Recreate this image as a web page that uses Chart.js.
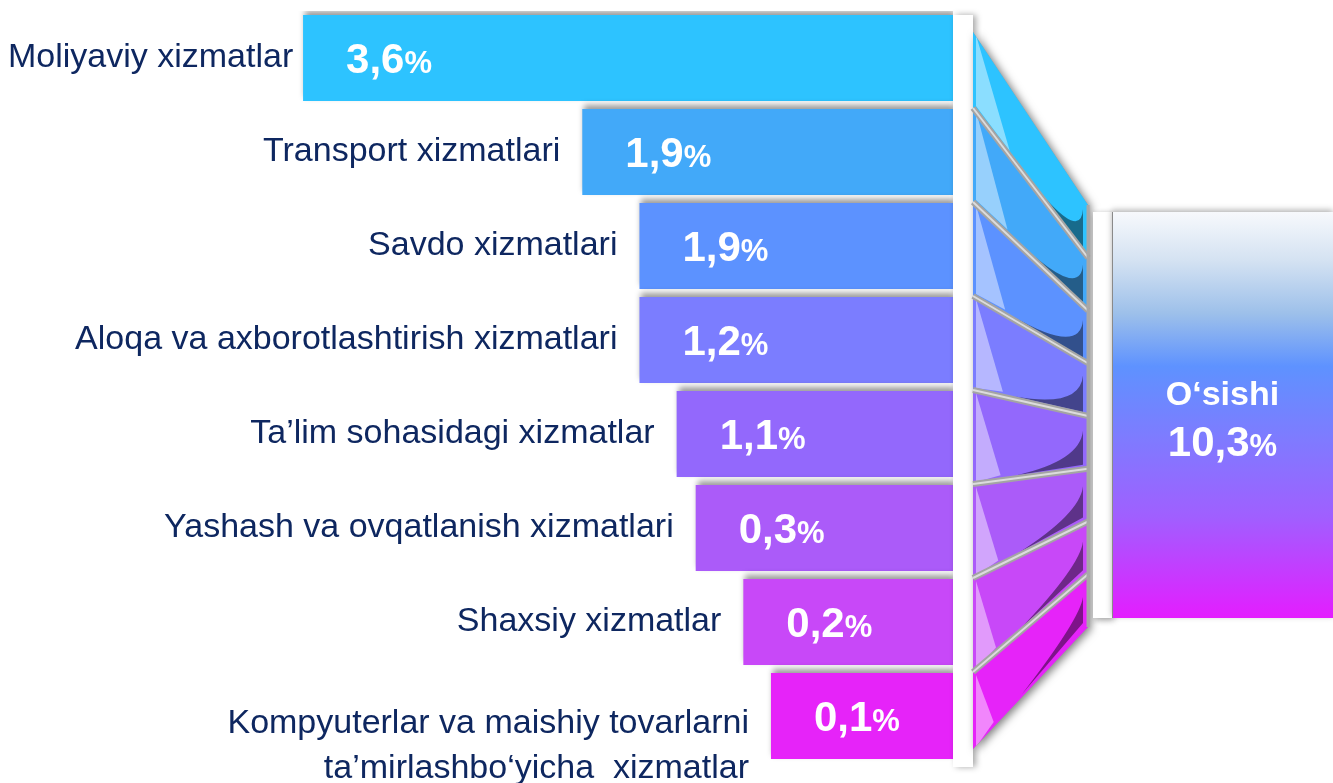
<!DOCTYPE html>
<html>
<head>
<meta charset="utf-8">
<script src="https://cdn.jsdelivr.net/npm/chart.js@4.4.0/dist/chart.umd.min.js"></script>
<style>
  html, body { margin: 0; padding: 0; background: #fff; }
  canvas { display: block; }
</style>
</head>
<body>
<canvas id="grafico" width="1333" height="783"></canvas>
<script>
// Datos
const categorias = [
  'Moliyaviy xizmatlar',
  'Transport xizmatlari',
  'Savdo xizmatlari',
  'Aloqa va axborotlashtirish xizmatlari',
  'Ta’lim sohasidagi xizmatlar',
  'Yashash va ovqatlanish xizmatlari',
  'Shaxsiy xizmatlar',
  ['Kompyuterlar va maishiy tovarlarni', 'ta’mirlashbo‘yicha  xizmatlar']
];
const valores = [3.6, 1.9, 1.9, 1.2, 1.1, 0.3, 0.2, 0.1];
// largo de cada barra tal como se ve (eje 0-100)
const largoBarras = [68.2, 38.9, 32.9, 32.9, 29.0, 27.0, 22.0, 19.1];
const colores = ['#2DC3FF', '#42A9F9', '#5C92FF', '#7B7DFF', '#9368FC', '#AB5BF9', '#C848F8', '#E623F9'];
const totalTexto = 'O‘sishi';
const totalValor = 10.3;

const fmt = v => v.toFixed(1).replace('.', ',');
const azul = '#0E2760';

// Texto "3,6" + "%" mas chico
function textoPorcentaje(ctx, num, x, y, tam, tamPct, align) {
  ctx.font = 'bold ' + tam + 'px "Liberation Sans", Arial, sans-serif';
  const w1 = ctx.measureText(num).width;
  ctx.font = 'bold ' + tamPct + 'px "Liberation Sans", Arial, sans-serif';
  const w2 = ctx.measureText('%').width;
  let xi = align === 'center' ? x - (w1 + w2) / 2 : x;
  ctx.textAlign = 'left';
  ctx.textBaseline = 'alphabetic';
  ctx.font = 'bold ' + tam + 'px "Liberation Sans", Arial, sans-serif';
  ctx.fillText(num, xi, y);
  ctx.font = 'bold ' + tamPct + 'px "Liberation Sans", Arial, sans-serif';
  ctx.fillText('%', xi + w1, y);
}

// Sombra de las barras
const sombraBarras = {
  id: 'sombraBarras',
  beforeDatasetsDraw(chart) {
    const ctx = chart.ctx;
    ctx.save();
    ctx.shadowColor = 'rgba(0,0,0,0.4)';
    ctx.shadowBlur = 6;
    ctx.shadowOffsetX = 2;
    ctx.shadowOffsetY = -4;
  },
  afterDatasetsDraw(chart) {
    chart.ctx.restore();
  }
};

// Etiquetas
const etiquetas = {
  id: 'etiquetas',
  afterDatasetsDraw(chart) {
    const ctx = chart.ctx;
    const barras = chart.getDatasetMeta(0).data;
    ctx.save();
    barras.forEach((b, i) => {
      const izq = Math.min(b.x, b.base);
      // categoria
      ctx.fillStyle = azul;
      ctx.font = '34px "Liberation Sans", Arial, sans-serif';
      ctx.textAlign = 'right';
      ctx.textBaseline = 'middle';
      const lineas = Array.isArray(categorias[i]) ? categorias[i] : [categorias[i]];
      const desde = lineas.length > 1 ? b.y + 8 : b.y;
      const ancho = Math.max(...lineas.map(l => ctx.measureText(l).width));
      const xTexto = Math.max(izq - 22, 8 + ancho);
      lineas.forEach((l, k) => ctx.fillText(l, xTexto, desde + k * 45));
      // valor
      ctx.fillStyle = '#fff';
      textoPorcentaje(ctx, fmt(valores[i]), izq + 43, b.y + 15, 42, 31, 'left');
    });
    ctx.restore();
  }
};

// Abanico, separadores y caja del total
const abanico = {
  id: 'abanico',
  afterDraw(chart) {
    const ctx = chart.ctx;
    const area = chart.chartArea;
    const barras = chart.getDatasetMeta(0).data;
    const n = barras.length;
    const x0 = area.right + 20;
    const x1 = area.right + 135;
    const cajaTop = 212, cajaBot = 618;
    const cajaX = x1 + 24;

    const topBarra = b => b.y - b.height / 2;
    const botBarra = b => b.y + b.height / 2;

    // bordes izquierdos y derechos de cada tramo
    const izq = [topBarra(barras[0]) + 17];
    for (let i = 0; i < n - 1; i++) izq.push((botBarra(barras[i]) + topBarra(barras[i + 1])) / 2 + 3);
    izq.push(botBarra(barras[n - 1]) - 10);
    const derTop = 205, derBot = 627;
    const der = [];
    for (let i = 0; i <= n; i++) der.push(derTop + (derBot - derTop) * i / n);

    ctx.save();

    // franja blanca 1
    ctx.save();
    ctx.shadowColor = 'rgba(0,0,0,0.35)';
    ctx.shadowBlur = 6;
    ctx.shadowOffsetX = 3;
    ctx.shadowOffsetY = 0;
    ctx.fillStyle = '#fff';
    ctx.fillRect(area.right, topBarra(barras[0]), 20, botBarra(barras[n - 1]) - topBarra(barras[0]) + 8);
    ctx.restore();

    // sombra del abanico
    ctx.save();
    ctx.shadowColor = 'rgba(0,0,0,0.5)';
    ctx.shadowBlur = 9;
    ctx.shadowOffsetX = 3;
    ctx.shadowOffsetY = 2;
    ctx.beginPath();
    ctx.moveTo(x0, izq[0]);
    ctx.lineTo(x1, der[0]);
    ctx.lineTo(x1, der[n]);
    ctx.lineTo(x0, izq[n]);
    ctx.closePath();
    ctx.fillStyle = '#9a9a9a';
    ctx.fill();
    ctx.restore();

    const punto = (t, i) => [x0 + (x1 - x0) * t, izq[i] + (der[i] - izq[i]) * t];

    for (let i = 0; i < n; i++) {
      ctx.save();
      ctx.beginPath();
      ctx.moveTo(x0, izq[i]);
      ctx.lineTo(x1, der[i]);
      ctx.lineTo(x1, der[i + 1]);
      ctx.lineTo(x0, izq[i + 1]);
      ctx.closePath();
      ctx.fillStyle = colores[i];
      ctx.fill();
      ctx.clip();

      // brillo
      const t = 0.32 - i * 0.02;
      const p = punto(t, i + 1);
      ctx.beginPath();
      ctx.moveTo(x0 + 3, izq[i] + 3);
      ctx.lineTo(x0 + 3, izq[i + 1] - 2);
      ctx.lineTo(p[0], p[1] - 5);
      ctx.closePath();
      ctx.fillStyle = 'rgba(255,255,255,0.45)';
      ctx.fill();

      // sombra curva
      const q = punto(0.32 + i * 0.015, i + 1);
      const alto = der[i + 1] - der[i];
      const rTop = der[i] + alto * (0.08 + i * 0.05);
      ctx.beginPath();
      ctx.moveTo(q[0], q[1] - 3);
      ctx.lineTo(x1 - 5, der[i + 1] - 4);
      ctx.lineTo(x1 - 5, rTop);
      ctx.quadraticCurveTo(x1 - 8, der[i + 1] - alto * 0.15, q[0], q[1] - 3);
      ctx.closePath();
      ctx.fillStyle = 'rgba(0,0,0,0.45)';
      ctx.fill();
      ctx.restore();
    }

    // lineas entre tramos
    for (let i = 1; i < n; i++) {
      ctx.beginPath();
      ctx.moveTo(x0, izq[i]);
      ctx.lineTo(x1, der[i]);
      ctx.lineWidth = 6;
      ctx.strokeStyle = '#a4a4a4';
      ctx.stroke();
      ctx.lineWidth = 2;
      ctx.strokeStyle = '#dcdcdc';
      ctx.stroke();
    }
    ctx.beginPath();
    ctx.moveTo(x1, der[0]);
    ctx.lineTo(x1, der[n]);
    ctx.lineWidth = 3;
    ctx.strokeStyle = '#a8a8a8';
    ctx.stroke();

    // franja blanca 2
    ctx.save();
    ctx.shadowColor = 'rgba(0,0,0,0.4)';
    ctx.shadowBlur = 6;
    ctx.shadowOffsetX = 2;
    ctx.shadowOffsetY = 2;
    ctx.fillStyle = '#fff';
    ctx.fillRect(x1 + 5, cajaTop, cajaX - x1 - 5, cajaBot - cajaTop);
    ctx.restore();

    // caja total
    const grad = ctx.createLinearGradient(0, cajaTop, 0, cajaBot);
    grad.addColorStop(0, '#F7F9FC');
    grad.addColorStop(0.12, '#D4E2F2');
    grad.addColorStop(0.25, '#9DC0EA');
    grad.addColorStop(0.38, '#5E92FF');
    grad.addColorStop(0.55, '#7D7CFF');
    grad.addColorStop(0.75, '#A05FFF');
    grad.addColorStop(1, '#E41DFF');
    ctx.save();
    ctx.shadowColor = 'rgba(0,0,0,0.3)';
    ctx.shadowBlur = 6;
    ctx.shadowOffsetY = -2;
    ctx.fillStyle = grad;
    ctx.fillRect(cajaX, cajaTop, chart.width - cajaX, cajaBot - cajaTop);
    ctx.restore();
    ctx.fillStyle = '#8a8a8a';
    ctx.fillRect(cajaX, cajaTop, 1, cajaBot - cajaTop);

    const cx = (cajaX + chart.width) / 2;
    ctx.fillStyle = '#fff';
    ctx.font = 'bold 34px "Liberation Sans", Arial, sans-serif';
    ctx.textAlign = 'center';
    ctx.textBaseline = 'alphabetic';
    ctx.fillText(totalTexto, cx, 405);
    textoPorcentaje(ctx, fmt(totalValor), cx, 456, 42, 31, 'center');

    ctx.restore();
  }
};

const ctx = document.getElementById('grafico').getContext('2d');
new Chart(ctx, {
  type: 'bar',
  data: {
    labels: categorias,
    datasets: [{
      data: largoBarras,
      backgroundColor: colores,
      borderWidth: 0,
      barPercentage: 0.915,
      categoryPercentage: 1
    }]
  },
  options: {
    indexAxis: 'y',
    responsive: false,
    animation: false,
    layout: { padding: { left: 0, right: 380, top: 11, bottom: 20 } },
    scales: {
      x: { reverse: true, min: 0, max: 100, display: false },
      y: { display: false }
    },
    plugins: { legend: { display: false }, tooltip: { enabled: false } }
  },
  plugins: [sombraBarras, etiquetas, abanico]
});
</script>
</body>
</html>
